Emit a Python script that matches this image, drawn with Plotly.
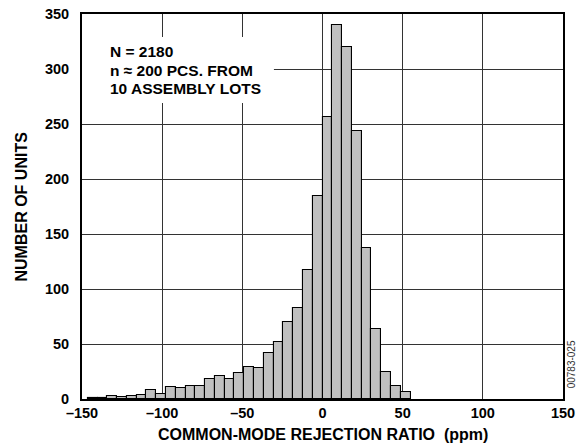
import plotly.graph_objects as go

# ---- data ----
BIN_WIDTH = 6.1            # ppm per histogram bin
FIRST_BIN_INDEX = -24      # left edge of first bin = FIRST_BIN_INDEX * BIN_WIDTH
counts = [1, 1, 3, 2, 3, 4, 8, 5, 11, 10, 12, 12, 18, 21, 18, 24, 29, 28,
          42, 52, 70, 83, 117, 185,
          256, 340, 320, 244, 137, 64, 25, 12, 6]
x_ticks = [-150, -100, -50, 0, 50, 100, 150]
x_tick_labels = ["–150", "–100", "–50", "0", "50", "100", "150"]
y_ticks = [0, 50, 100, 150, 200, 250, 300, 350]
note_lines = ["N = 2180", "n ≈ 200 PCS. FROM", "10 ASSEMBLY LOTS"]
x_title = "COMMON-MODE REJECTION RATIO\u00a0\u00a0(ppm)"
y_title = "NUMBER OF UNITS"
code_label = "00783-025"

centers = [(FIRST_BIN_INDEX + i + 0.5) * BIN_WIDTH for i in range(len(counts))]

FONT = "Liberation Sans, Arial, sans-serif"

fig = go.Figure()
fig.add_trace(go.Bar(
    x=centers, y=counts, width=BIN_WIDTH,
    marker=dict(color="#c0c0c0", line=dict(color="#000000", width=1.1)),
    hoverinfo="x+y",
))

fig.update_layout(
    width=577, height=447,
    margin=dict(l=82, r=14, t=14, b=48, autoexpand=False),
    paper_bgcolor="white", plot_bgcolor="white",
    showlegend=False, bargap=0,
    font=dict(family=FONT, color="#000000"),
)
fig.update_xaxes(
    range=[-150, 150], tickvals=x_ticks, ticktext=x_tick_labels,
    showgrid=True, gridcolor="#333333", gridwidth=1.3,
    showline=True, linecolor="#000000", linewidth=2, mirror=True,
    ticks="", zeroline=False, automargin=False,
    tickfont=dict(family=FONT, size=14.5, weight="bold"),
)
fig.update_yaxes(
    range=[0, 350], tickvals=y_ticks,
    showgrid=True, gridcolor="#333333", gridwidth=1.3,
    showline=True, linecolor="#000000", linewidth=2, mirror=True,
    ticks="", zeroline=False, ticklabelstandoff=8, automargin=False,
    tickfont=dict(family=FONT, size=14.5, weight="bold"),
)

# axis titles
fig.add_annotation(xref="paper", yref="paper", x=0.5, y=0, yshift=-35, text=x_title,
                   showarrow=False, xanchor="center", yanchor="middle",
                   font=dict(family=FONT, size=16, weight="bold"))
fig.add_annotation(xref="paper", yref="paper", x=0, xshift=-61, y=0.5, text=y_title,
                   showarrow=False, textangle=-90, xanchor="center", yanchor="middle",
                   font=dict(family=FONT, size=16, weight="bold"))

# white box behind the note (covers gridlines)
fig.add_shape(type="rect", xref="x", yref="y", x0=-150, x1=-30.3, y0=269, y1=329,
              fillcolor="white", line=dict(width=0), layer="between")
for k, line in enumerate(note_lines):
    fig.add_annotation(xref="x", yref="y", x=-134, y=316 - k * 17, text=line,
                       showarrow=False, xanchor="left", yanchor="middle",
                       font=dict(family=FONT, size=15.5, weight="bold", color="#000000"))

fig.add_annotation(xref="paper", yref="paper", x=1.0, xshift=8, y=0.09, text=code_label,
                   showarrow=False, textangle=-90, xanchor="center", yanchor="middle",
                   font=dict(family=FONT, size=10, color="#333333"))

fig.write_html("out.html", config={"displayModeBar": False},
               post_script="document.body.style.margin='0';document.body.style.overflow='hidden';")
